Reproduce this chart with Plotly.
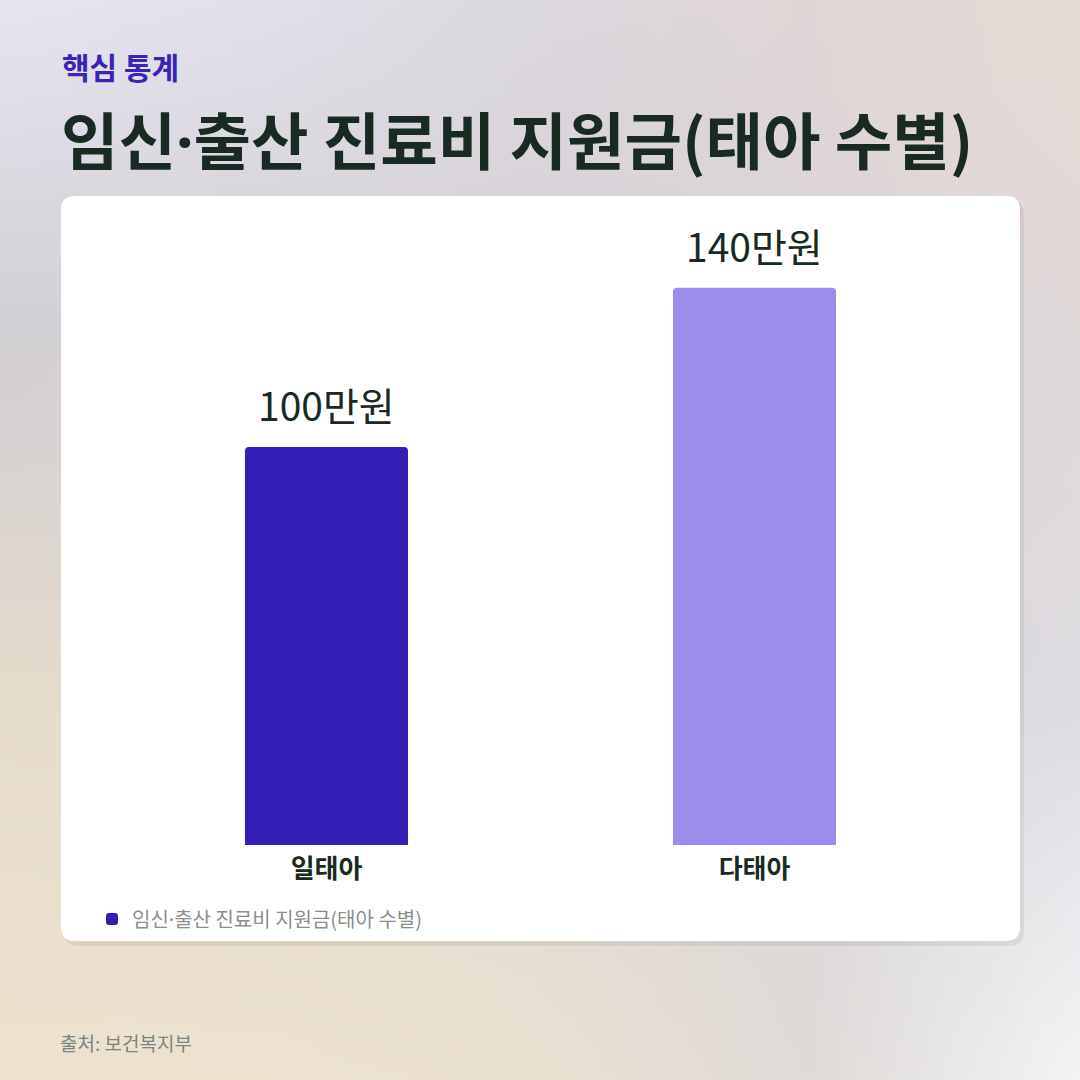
import base64
import struct
import zlib

import numpy as np
import plotly.graph_objects as go

# data
categories = ["일태아", "다태아"]
amounts = [100, 140]          # 만원
bar_colors = ["#331fb5", "#9b8deb"]
series_name = "임신·출산 진료비 지원금(태아 수별)"
kicker = "핵심 통계"
title = "임신·출산 진료비 지원금(태아 수별)"
source = "출처: 보건복지부"

W = H = 1080
FONT = "Noto Sans CJK KR"


def px_x(p):
    return p / W


def px_y(p):
    return 1 - p / H


def narrow_dot(s):
    # the CJK middle dot is full width; draw it from a latin font instead
    return s.replace("·", "<span style='font-family:Noto Sans'>·</span>")


# soft background gradient, rendered to a small png and stretched
grid_x = [0, 270, 540, 810, 1080]
grid_y = [0, 330, 700, 1080]
grid_colors = [
    ["#e7e5f1", "#e2e0ea", "#dcd8df", "#e0d6d6", "#e7dbd5"],
    ["#d2cfd4", "#d4d0d5", "#d6d2d6", "#dbd5d7", "#e0d9d9"],
    ["#e6dccc", "#e4dbcf", "#e0d9d4", "#dcd8da", "#dedce2"],
    ["#efe3cf", "#eee3d0", "#ebe1d2", "#dfdbd8", "#f4f4f6"],
]


def hex_rgb(h):
    h = h.lstrip("#")
    return [int(h[i:i + 2], 16) for i in (0, 2, 4)]


def gradient_png(n=108):
    ctrl = np.array([[hex_rgb(c) for c in row] for row in grid_colors], float)
    xs = np.linspace(0, W, n)
    ys = np.linspace(0, H, n)
    rows = np.empty((len(grid_y), n, 3))
    for i in range(len(grid_y)):
        for c in range(3):
            rows[i, :, c] = np.interp(xs, grid_x, ctrl[i, :, c])
    img = np.empty((n, n, 3))
    for j in range(n):
        for c in range(3):
            img[:, j, c] = np.interp(ys, grid_y, rows[:, j, c])
    img = img.clip(0, 255).astype(np.uint8)

    def chunk(tag, data):
        body = tag + data
        return struct.pack(">I", len(data)) + body + struct.pack(">I", zlib.crc32(body) & 0xffffffff)

    raw = b"".join(b"\x00" + img[r].tobytes() for r in range(n))
    png = (b"\x89PNG\r\n\x1a\n"
           + chunk(b"IHDR", struct.pack(">IIBBBBB", n, n, 8, 2, 0, 0, 0))
           + chunk(b"IDAT", zlib.compress(raw, 9))
           + chunk(b"IEND", b""))
    return "data:image/png;base64," + base64.b64encode(png).decode()


def rounded_path(x0, y0, x1, y1, r):
    X, Y = px_x, px_y
    return (f"M {X(x0 + r)},{Y(y0)} L {X(x1 - r)},{Y(y0)} Q {X(x1)},{Y(y0)} {X(x1)},{Y(y0 + r)} "
            f"L {X(x1)},{Y(y1 - r)} Q {X(x1)},{Y(y1)} {X(x1 - r)},{Y(y1)} "
            f"L {X(x0 + r)},{Y(y1)} Q {X(x0)},{Y(y1)} {X(x0)},{Y(y1 - r)} "
            f"L {X(x0)},{Y(y0 + r)} Q {X(x0)},{Y(y0)} {X(x0 + r)},{Y(y0)} Z")


fig = go.Figure()
fig.add_trace(go.Bar(
    x=categories,
    y=amounts,
    name=narrow_dot(series_name),
    marker=dict(color=bar_colors, cornerradius=4, line=dict(width=0)),
    showlegend=True,
    hoverinfo="skip",
))

# value labels above the bars
for cat, val in zip(categories, amounts):
    fig.add_annotation(x=cat, y=val, xref="x", yref="y", text=f"{val}만원",
                       showarrow=False, yanchor="bottom", yshift=13,
                       font=dict(family=FONT, size=39, color="#182a22"))

# headings and source
fig.add_annotation(x=px_x(60), y=px_y(66), xref="paper", yref="paper", text=kicker,
                   showarrow=False, xanchor="left", yanchor="middle",
                   font=dict(family=FONT, size=30, color="#3a23b6", weight=700))
fig.add_annotation(x=px_x(59), y=px_y(137), xref="paper", yref="paper", text=narrow_dot(title),
                   showarrow=False, xanchor="left", yanchor="middle",
                   font=dict(family=FONT, size=62.5, color="#182a22", weight=700))
fig.add_annotation(x=px_x(58), y=px_y(1042), xref="paper", yref="paper", text=source,
                   showarrow=False, xanchor="left", yanchor="middle",
                   font=dict(family=FONT, size=19, color="#7d8582"))

fig.update_layout(
    width=W, height=H,
    margin=dict(l=0, r=0, t=0, b=0),
    paper_bgcolor="#e2dcd6",
    plot_bgcolor="rgba(0,0,0,0)",
    bargap=0.619,
    font=dict(family=FONT),
    images=[dict(source=gradient_png(), xref="paper", yref="paper", x=0, y=1,
                 sizex=1, sizey=1, sizing="stretch", xanchor="left", yanchor="top",
                 layer="below")],
    shapes=[
        dict(type="path", xref="paper", yref="paper", layer="below",
             path=rounded_path(64, 200, 1024, 946, 14),
             fillcolor="rgba(60,50,40,0.08)", line=dict(width=0)),
        dict(type="path", xref="paper", yref="paper", layer="below",
             path=rounded_path(61, 196, 1020, 941, 14),
             fillcolor="#ffffff", line=dict(width=0)),
    ],
    legend=dict(x=px_x(92), y=px_y(919), xanchor="left", yanchor="middle",
                bgcolor="rgba(0,0,0,0)", font=dict(family=FONT, size=20, color="#8a8f8c"),
                itemclick=False, itemdoubleclick=False),
    xaxis=dict(domain=[px_x(112.5), px_x(968.5)], showgrid=False, zeroline=False,
               showline=False, ticks="", ticklabelstandoff=6, fixedrange=True,
               tickfont=dict(family=FONT, size=26, color="#182a22", weight=700)),
    yaxis=dict(domain=[px_y(845), px_y(230)], range=[0, 615 / 3.98], showgrid=False,
               zeroline=False, showline=False, showticklabels=False, ticks="",
               fixedrange=True),
)

fig.write_html("out.html", config={"displayModeBar": False},
               post_script="document.body.style.margin='0';")
